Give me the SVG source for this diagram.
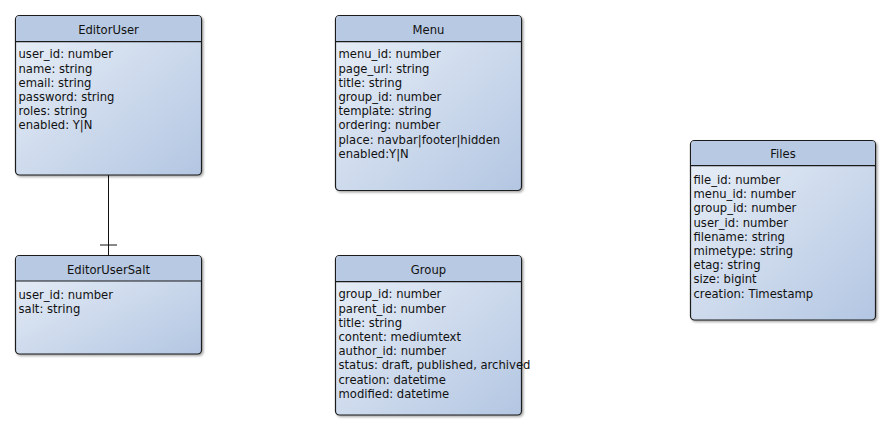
<svg xmlns="http://www.w3.org/2000/svg" width="891" height="430" viewBox="0 0 891 430">
<defs>
<linearGradient id="body" x1="0" y1="0" x2="1" y2="1">
<stop offset="0" stop-color="#eaf0f8"/>
<stop offset="1" stop-color="#b3c6e2"/>
</linearGradient>
<filter id="sh" x="-5%" y="-5%" width="115%" height="115%">
<feDropShadow dx="1.5" dy="1.5" stdDeviation="1.2" flood-color="#000" flood-opacity="0.35"/>
</filter>
</defs>
<style>
.box{fill:url(#body);stroke:#1a1a1a;stroke-width:1.2;filter:url(#sh)}
.hdr{fill:#b8c9e3}
.div{stroke:#1a1a1a;stroke-width:1.2}
.t{font-family:"DejaVu Sans","Liberation Sans",sans-serif;font-size:11.6px;fill:#111}
.c{text-anchor:middle}
.ln{stroke:#111;stroke-width:1;fill:none}
</style>
<rect width="891" height="430" fill="#fff"/>

<g id="connectors">
<line class="ln" x1="108.5" y1="175" x2="108.5" y2="255"/>
<line class="ln" x1="100" y1="245" x2="117" y2="245"/>
</g>

<g id="EditorUser">
<rect class="box" x="15.5" y="15.5" width="186" height="159.5" rx="4"/>
<path class="hdr" d="M19.5 16.1 H197.5 Q200.9 16.1 200.9 19.5 V41.7 H16.1 V19.5 Q16.1 16.1 19.5 16.1Z"/>
<line class="div" x1="15.5" y1="41.7" x2="201.5" y2="41.7"/>
<text class="t c" x="108.5" y="33.5">EditorUser</text>
<text class="t" x="18.5" y="58.3">user_id: number</text>
<text class="t" x="18.5" y="72.5">name: string</text>
<text class="t" x="18.5" y="86.7">email: string</text>
<text class="t" x="18.5" y="100.9">password: string</text>
<text class="t" x="18.5" y="115.1">roles: string</text>
<text class="t" x="18.5" y="129.3">enabled: Y|N</text>
</g>

<g id="EditorUserSalt">
<rect class="box" x="15.5" y="255.5" width="186" height="98.5" rx="4"/>
<path class="hdr" d="M19.5 256.1 H197.5 Q200.9 256.1 200.9 259.5 V281 H16.1 V259.5 Q16.1 256.1 19.5 256.1Z"/>
<line class="div" x1="15.5" y1="281" x2="201.5" y2="281"/>
<text class="t c" x="108.5" y="274">EditorUserSalt</text>
<text class="t" x="18.5" y="299">user_id: number</text>
<text class="t" x="18.5" y="313.2">salt: string</text>
</g>

<g id="Menu">
<rect class="box" x="335.5" y="15.5" width="186" height="175" rx="4"/>
<path class="hdr" d="M339.5 16.1 H517.5 Q520.9 16.1 520.9 19.5 V41.7 H336.1 V19.5 Q336.1 16.1 339.5 16.1Z"/>
<line class="div" x1="335.5" y1="41.7" x2="521.5" y2="41.7"/>
<text class="t c" x="428.5" y="33.5">Menu</text>
<text class="t" x="338.5" y="58.3">menu_id: number</text>
<text class="t" x="338.5" y="72.5">page_url: string</text>
<text class="t" x="338.5" y="86.7">title: string</text>
<text class="t" x="338.5" y="100.9">group_id: number</text>
<text class="t" x="338.5" y="115.1">template: string</text>
<text class="t" x="338.5" y="129.3">ordering: number</text>
<text class="t" x="338.5" y="143.5">place: navbar|footer|hidden</text>
<text class="t" x="338.5" y="157.7">enabled:Y|N</text>
</g>

<g id="Group">
<rect class="box" x="335.5" y="255.5" width="186" height="159.5" rx="4"/>
<path class="hdr" d="M339.5 256.1 H517.5 Q520.9 256.1 520.9 259.5 V281.7 H336.1 V259.5 Q336.1 256.1 339.5 256.1Z"/>
<line class="div" x1="335.5" y1="281.7" x2="521.5" y2="281.7"/>
<text class="t c" x="428.5" y="273.5">Group</text>
<text class="t" x="338.5" y="298.3">group_id: number</text>
<text class="t" x="338.5" y="312.5">parent_id: number</text>
<text class="t" x="338.5" y="326.7">title: string</text>
<text class="t" x="338.5" y="340.9">content: mediumtext</text>
<text class="t" x="338.5" y="355.1">author_id: number</text>
<text class="t" x="338.5" y="369.3">status: draft, published, archived</text>
<text class="t" x="338.5" y="383.5">creation: datetime</text>
<text class="t" x="338.5" y="397.7">modified: datetime</text>
</g>

<g id="Files">
<rect class="box" x="690.5" y="140.5" width="185" height="179.5" rx="4"/>
<path class="hdr" d="M694.5 141.1 H871.5 Q874.9 141.1 874.9 144.5 V165.7 H691.1 V144.5 Q691.1 141.1 694.5 141.1Z"/>
<line class="div" x1="690.5" y1="165.7" x2="875.5" y2="165.7"/>
<text class="t c" x="783" y="158">Files</text>
<text class="t" x="693.5" y="184">file_id: number</text>
<text class="t" x="693.5" y="198.2">menu_id: number</text>
<text class="t" x="693.5" y="212.4">group_id: number</text>
<text class="t" x="693.5" y="226.6">user_id: number</text>
<text class="t" x="693.5" y="240.8">filename: string</text>
<text class="t" x="693.5" y="255">mimetype: string</text>
<text class="t" x="693.5" y="269.2">etag: string</text>
<text class="t" x="693.5" y="283.4">size: bigint</text>
<text class="t" x="693.5" y="297.6">creation: Timestamp</text>
</g>
</svg>
